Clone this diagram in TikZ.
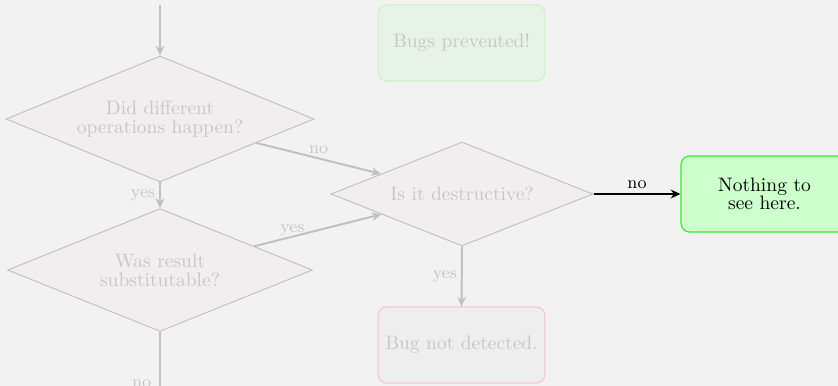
\documentclass[tikz,border=0pt]{standalone}
\usetikzlibrary{shapes.geometric,arrows.meta}
\definecolor{bg}{RGB}{242,242,242}
\definecolor{diafill}{RGB}{242,238,239}
\definecolor{diaborder}{RGB}{196,192,192}
\definecolor{fadetext}{RGB}{198,198,198}
\definecolor{arrowgray}{RGB}{192,192,192}
\definecolor{goodfill}{RGB}{232,243,232}
\definecolor{goodborder}{RGB}{200,240,200}
\definecolor{badfill}{RGB}{238,238,238}
\definecolor{badborder}{RGB}{245,195,195}
\definecolor{okfill}{RGB}{204,255,204}
\definecolor{okborder}{RGB}{50,235,50}
\begin{document}
\begin{tikzpicture}[x=0.5128pt,y=-0.5128pt,
  decision/.style={diamond, draw=diaborder, fill=diafill, text=fadetext, align=center,
    inner sep=0pt, line width=0.5pt, font=\fontsize{10}{9.7}\selectfont},
  fadebox/.style={rectangle, rounded corners=4.5pt, minimum width=85.6pt, minimum height=39pt,
    align=center, line width=0.5pt, text=fadetext, font=\fontsize{10}{9.7}\selectfont},
  okbox/.style={rectangle, rounded corners=4.5pt, minimum width=85.6pt, minimum height=39pt,
    align=center, line width=0.6pt, draw=okborder, fill=okfill, text=black, font=\fontsize{10}{9.5}\selectfont},
  fadearrow/.style={draw=arrowgray, line width=1pt, -{Stealth[length=5pt,width=4.5pt]}},
  darkarrow/.style={draw=black, line width=1pt, -{Stealth[length=5pt,width=4.5pt]}},
  fadelabel/.style={text=fadetext, font=\small, inner sep=2pt},
  darklabel/.style={text=black, font=\small, inner sep=2pt}
]
\fill[bg] (0,0) rectangle (838,386);
\useasboundingbox (0,0) rectangle (838,386);

\node[decision, minimum width=158pt, minimum height=64.6pt, shape aspect=2.45] (d1) at (160,119) {Did different\\operations happen?};
\node[decision, minimum width=156.4pt, minimum height=63pt, shape aspect=2.48] (d2) at (160,270) {Was result\\substitutable?};
\node[decision, minimum width=134.4pt, minimum height=53.3pt, shape aspect=2.5] (d3) at (462,194) {Is it destructive?};

\node[fadebox, draw=goodborder, fill=goodfill] (prevented) at (461.5,43) {Bugs prevented!};
\node[fadebox, draw=badborder, fill=badfill] (notdetected) at (461.5,345) {Bug not detected.};
\node[okbox] (nothing) at (764.5,194) {Nothing to\\see here.};

\coordinate (top) at (160,5);
\coordinate (bot) at (160,431);

\draw[fadearrow] (top) -- (d1.north);
\draw[fadearrow] (d1.south) -- (d2.north) node[midway, left, fadelabel] {yes};
\draw[fadearrow] (d1) -- (d3) node[midway, above, fadelabel] {no};
\draw[fadearrow] (d2) -- (d3) node[pos=0.3, above, fadelabel, inner sep=0pt] {yes};
\draw[fadearrow] (d3.south) -- (notdetected.north) node[midway, left, fadelabel] {yes};
\draw[fadearrow] (d2.south) -- (bot) node[midway, left, fadelabel, xshift=-2pt, yshift=-1pt] {no};
\draw[darkarrow] (d3.east) -- (nothing.west) node[midway, above, darklabel] {no};
\end{tikzpicture}
\end{document}
